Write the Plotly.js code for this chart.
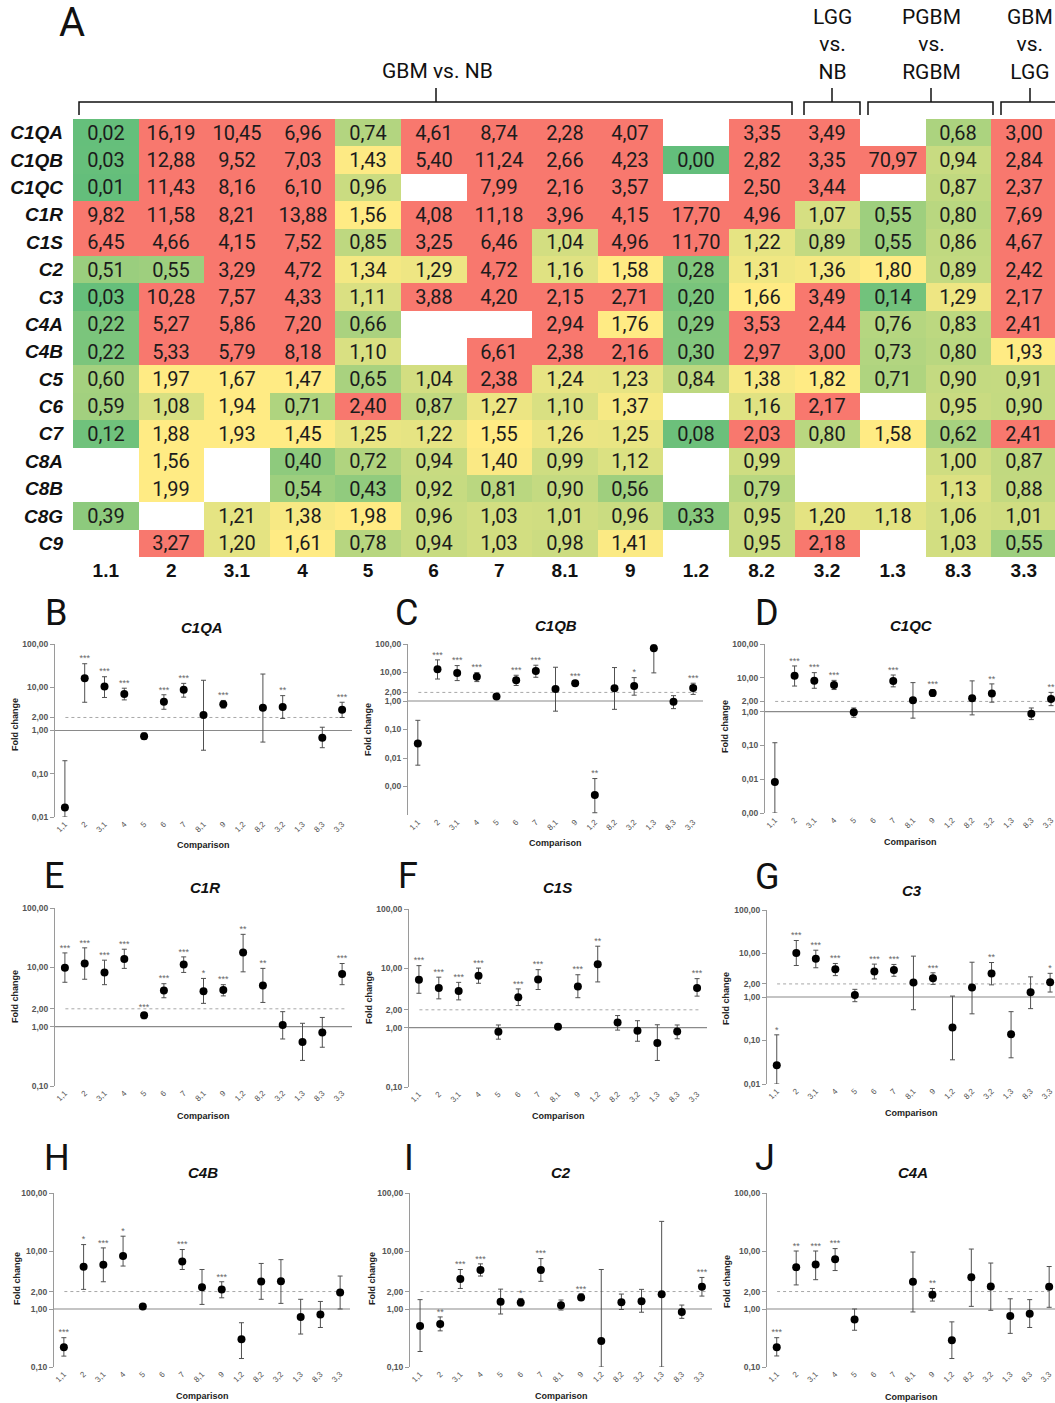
<!DOCTYPE html>
<html><head><meta charset="utf-8">
<script src="https://cdn.plot.ly/plotly-3.0.1.min.js"></script>
<style>body{margin:0;background:#fff}#chart{width:1055px;height:1403px}</style>
</head><body><div id="chart"></div>
<script>
// ---------- DATA ----------
const comparisons = ['1.1','2','3.1','4','5','6','7','8.1','9','1.2','8.2','3.2','1.3','8.3','3.3'];
const genes = ['C1QA','C1QB','C1QC','C1R','C1S','C2','C3','C4A','C4B','C5','C6','C7','C8A','C8B','C8G','C9'];

// fold change per gene (columns follow `comparisons`)
const fc_C1QA = [0.0166,16.19,10.45,6.96,0.74,4.61,8.74,2.28,4.07,null,3.35,3.49,null,0.68,3.00];
const fc_C1QB = [0.032,12.88,9.52,7.03,1.43,5.40,11.24,2.66,4.23,0.0005,2.82,3.35,70.97,0.94,2.84];
const fc_C1QC = [0.0082,11.43,8.16,6.10,0.96,null,7.99,2.16,3.57,null,2.50,3.44,null,0.87,2.37];
const fc_C1R  = [9.82,11.58,8.21,13.88,1.56,4.08,11.18,3.96,4.15,17.70,4.96,1.07,0.55,0.80,7.69];
const fc_C1S  = [6.45,4.66,4.15,7.52,0.85,3.25,6.46,1.04,4.96,11.70,1.22,0.89,0.55,0.86,4.67];
const fc_C2   = [0.51,0.55,3.29,4.72,1.34,1.29,4.72,1.16,1.58,0.28,1.31,1.36,1.80,0.89,2.42];
const fc_C3   = [0.027,10.28,7.57,4.33,1.11,3.88,4.20,2.15,2.71,0.20,1.66,3.49,0.14,1.29,2.17];
const fc_C4A  = [0.22,5.27,5.86,7.20,0.66,null,null,2.94,1.76,0.29,3.53,2.44,0.76,0.83,2.41];
const fc_C4B  = [0.22,5.33,5.79,8.18,1.10,null,6.61,2.38,2.16,0.30,2.97,3.00,0.73,0.80,1.93];
const fc_C5   = [0.60,1.97,1.67,1.47,0.65,1.04,2.38,1.24,1.23,0.84,1.38,1.82,0.71,0.90,0.91];
const fc_C6   = [0.59,1.08,1.94,0.71,2.40,0.87,1.27,1.10,1.37,null,1.16,2.17,null,0.95,0.90];
const fc_C7   = [0.12,1.88,1.93,1.45,1.25,1.22,1.55,1.26,1.25,0.08,2.03,0.80,1.58,0.62,2.41];
const fc_C8A  = [null,1.56,null,0.40,0.72,0.94,1.40,0.99,1.12,null,0.99,null,null,1.00,0.87];
const fc_C8B  = [null,1.99,null,0.54,0.43,0.92,0.81,0.90,0.56,null,0.79,null,null,1.13,0.88];
const fc_C8G  = [0.39,null,1.21,1.38,1.98,0.96,1.03,1.01,0.96,0.33,0.95,1.20,1.18,1.06,1.01];
const fc_C9   = [null,3.27,1.20,1.61,0.78,0.94,1.03,0.98,1.41,null,0.95,2.18,null,1.03,0.55];

// error bar bounds (upper / lower) and significance stars for panels B-J
const hiC1QA = [0.20,35,17.5,9.5,0.88,6.7,12.3,14.5,4.95,null,20.2,6.4,null,1.19,4.5];
const loC1QA = [0.01,4.5,5.8,5.1,0.62,3.1,5.9,0.35,3.3,null,0.54,1.9,null,0.40,2.0];
const stC1QA = ['','***','***','***','','***','***','','***','','','**','','','***'];

const hiC1QB = [0.21,27.7,17.5,9.9,1.55,8.0,18,15.3,5.05,0.0019,14.9,6.6,100,1.54,4.2];
const loC1QB = [0.0056,5.9,5.2,4.8,1.3,3.5,6.8,0.44,3.5,0.00012,0.51,1.6,9.7,0.54,1.7];
const stC1QB = ['','***','***','***','','***','***','','***','**','','*','','','***'];

const hiC1QC = [0.12,22.4,14.2,8.4,1.28,null,12.1,7.2,4.5,null,8.1,6.6,null,1.28,3.7];
const loC1QC = [0.001,5.7,4.9,4.5,0.68,null,5.4,0.64,2.8,null,0.80,1.9,null,0.58,1.5];
const stC1QC = ['','***','***','***','','','***','','***','','','**','','','**'];

const hiC1R = [17.5,21.3,13.2,20.2,1.72,5.3,15,6.5,5.1,36,9.6,1.79,1.14,1.43,11.6];
const loC1R = [5.6,6.3,5.1,9.6,1.36,3.07,8.2,2.47,3.3,8.4,2.56,0.62,0.27,0.45,5.1];
const stC1R = ['***','***','***','***','***','***','***','*','***','**','**','','','','***'];

const hiC1S = [11.1,7.1,5.8,10.1,1.11,4.5,9.5,1.1,7.8,23.6,1.6,1.31,1.12,1.11,6.7];
const loC1S = [3.8,3.06,2.94,5.6,0.64,2.36,4.4,0.98,3.2,5.9,0.91,0.59,0.28,0.65,3.4];
const stC1S = ['***','***','***','***','','***','***','','***','**','','','','','***'];

const hiC3 = [0.135,19.9,11.9,5.9,1.5,5.7,5.6,8.7,3.6,1.05,6.3,6.2,0.46,2.9,3.5];
const loC3 = [0.01,5.3,4.7,3.1,0.78,2.6,3.0,0.51,1.95,0.036,0.41,1.9,0.04,0.54,1.3];
const stC3 = ['*','***','***','***','','***','***','','***','','','**','','','*'];

const hiC4B = [0.32,12.9,11.3,18,1.16,null,10.6,4.8,2.95,0.58,6.1,7.1,1.47,1.35,3.7];
const loC4B = [0.154,2.18,2.95,5.5,1.05,null,4.8,1.2,1.56,0.14,1.47,1.25,0.37,0.48,1.0];
const stC4B = ['***','*','***','*','','','***','','***','','','','','',''];

const hiC2 = [1.45,0.73,4.8,6.0,2.2,1.52,7.4,1.43,1.83,4.8,1.81,2.18,32.4,1.17,3.5];
const loC2 = [0.185,0.42,2.26,3.7,0.82,1.13,3.0,0.96,1.43,0.10,0.98,0.88,0.10,0.69,1.67];
const stC2 = ['','**','***','***','','*','***','','***','','','','','','***'];

const hiC4A = [0.32,10,10,11,1.0,null,null,9.6,2.26,0.6,10.8,6.2,1.5,1.45,5.4];
const loC4A = [0.155,2.6,3.2,4.6,0.43,null,null,0.89,1.37,0.14,1.11,0.95,0.38,0.48,1.07];
const stC4A = ['***','**','***','***','','','','','**','','','','','',''];

// ---------- HELPERS ----------
const W = 1055, H = 1403;
const px = x => x / W;
const py = y => 1 - y / H;
const fmt = v => v == null ? '' : v.toFixed(2).replace('.', ',');

const heatRows = [fc_C1QA,fc_C1QB,fc_C1QC,fc_C1R,fc_C1S,fc_C2,fc_C3,fc_C4A,fc_C4B,fc_C5,fc_C6,fc_C7,fc_C8A,fc_C8B,fc_C8G,fc_C9];

const GREEN = '#63BE7B', YELLOW = '#FFEB84', RED = '#F8786E';
const ZMAX = 2.5;
const traces = [];
traces.push({
  type: 'heatmap', x: comparisons, y: genes, z: heatRows,
  text: heatRows.map(r => r.map(fmt)), texttemplate: '%{text}',
  textfont: {family: 'Roboto', size: 20, color: '#1c1c1c'},
  colorscale: [[0, GREEN], [1.45/ZMAX, YELLOW], [1.999/ZMAX, YELLOW], [2.0/ZMAX, RED], [1, RED]],
  zmin: 0, zmax: ZMAX, showscale: false, hoverinfo: 'skip', xaxis: 'x', yaxis: 'y'
});

const layout = {
  width: W, height: H, margin: {l: 0, r: 0, t: 0, b: 0},
  paper_bgcolor: '#fff', plot_bgcolor: 'rgba(0,0,0,0)', showlegend: false,
  xaxis: {domain: [px(73), 1], type: 'category', range: [-0.5, 14.476], anchor: 'y',
    tickfont: {family: 'Liberation Sans', size: 19, weight: 'bold', color: '#111'},
    ticks: '', showgrid: false, zeroline: false, showline: false, ticklabelstandoff: 0, fixedrange: true},
  yaxis: {domain: [py(557), py(119)], type: 'category', autorange: 'reversed', anchor: 'x',
    tickfont: {family: 'Liberation Sans', size: 19, weight: 'bold', style: 'italic', color: '#111'},
    ticks: '', showgrid: false, zeroline: false, showline: false, ticklabelstandoff: 9, fixedrange: true},
  shapes: [], annotations: []
};

// brackets and header
function bracket(x0, x1, xc) {
  const yb = py(115), yt = py(102), yc = py(88);
  layout.shapes.push({type: 'path', xref: 'paper', yref: 'paper',
    path: `M ${px(x0)},${yb} L ${px(x0)},${yt} L ${px(x1)},${yt} L ${px(x1)},${yb}`,
    line: {color: '#111', width: 1.5}});
  layout.shapes.push({type: 'line', xref: 'paper', yref: 'paper',
    x0: px(xc), x1: px(xc), y0: yt, y1: yc, line: {color: '#111', width: 1.5}});
}
bracket(79, 792, 436);
bracket(804, 860, 832);
bracket(868, 993, 931);
bracket(1001, 1075, 1030);

function ann(text, x, y, font, extra) {
  layout.annotations.push(Object.assign({text, x: px(x), y: py(y), xref: 'paper', yref: 'paper',
    xanchor: 'center', yanchor: 'middle', showarrow: false, font}, extra || {}));
}
const hdrFont = {family: 'Roboto', size: 21, color: '#111'};
ann('A', 72, 22, {family: 'Roboto', size: 40, color: '#111'});
ann('GBM vs. NB', 437, 71, hdrFont);
ann('LGG<br>vs.<br>NB', 832, 44, hdrFont);
ann('PGBM<br>vs.<br>RGBM', 931, 44, hdrFont);
ann('GBM<br>vs.<br>LGG', 1030, 44, hdrFont);

// ---------- PANELS ----------
const T2 = [0.01, 0.1, 1, 2, 10, 100];
const T3 = [0.001, 0.01, 0.1, 1, 2, 10, 100];
const T1 = [0.1, 1, 2, 10, 100];
const panels = [
  {letter:'B', gene:'C1QA', val:fc_C1QA, hi:hiC1QA, lo:loC1QA, st:stC1QA, L:55, R:352, T:644, B:817, yr:[-2,2], ticks:T2, xEnd:14.5, tx:202, ty:627, lx:56, ly:613, fx:15, fy:725, cy:845},
  {letter:'C', gene:'C1QB', val:fc_C1QB, hi:hiC1QB, lo:loC1QB, st:stC1QB, L:408, R:703, T:644, B:815, yr:[-4,2], ticks:T3, xEnd:14.5, tx:556, ty:625, lx:406, ly:613, fx:368, fy:730, cy:843},
  {letter:'D', gene:'C1QC', val:fc_C1QC, hi:hiC1QC, lo:loC1QC, st:stC1QC, L:765, R:1055, T:644, B:813, yr:[-3,2], ticks:T3, xEnd:14.2, tx:911, ty:625, lx:767, ly:613, fx:725, fy:727, cy:842},
  {letter:'E', gene:'C1R', val:fc_C1R, hi:hiC1R, lo:loC1R, st:stC1R, L:55, R:352, T:908, B:1086, yr:[-1,2], ticks:T1, xEnd:14.5, tx:205, ty:888, lx:54, ly:876, fx:15, fy:997, cy:1116},
  {letter:'F', gene:'C1S', val:fc_C1S, hi:hiC1S, lo:loC1S, st:stC1S, L:409, R:707, T:909, B:1087, yr:[-1,2], ticks:T1, xEnd:14.5, tx:557, ty:888, lx:408, ly:876, fx:369, fy:998, cy:1116},
  {letter:'G', gene:'C3', val:fc_C3, hi:hiC3, lo:loC3, st:stC3, L:767, R:1055, T:910, B:1084, yr:[-2,2], ticks:T2, xEnd:14.25, tx:912, ty:890, lx:767, ly:877, fx:726, fy:999, cy:1113},
  {letter:'H', gene:'C4B', val:fc_C4B, hi:hiC4B, lo:loC4B, st:stC4B, L:54, R:350, T:1193, B:1367, yr:[-1,2], ticks:T1, xEnd:14.5, tx:203, ty:1172, lx:57, ly:1158, fx:17, fy:1279, cy:1396},
  {letter:'I', gene:'C2', val:fc_C2, hi:hiC2, lo:loC2, st:stC2, L:410, R:712, T:1193, B:1367, yr:[-1,2], ticks:T1, xEnd:14.5, tx:561, ty:1172, lx:409, ly:1158, fx:372, fy:1279, cy:1396},
  {letter:'J', gene:'C4A', val:fc_C4A, hi:hiC4A, lo:loC4A, st:stC4A, L:767, R:1055, T:1193, B:1367, yr:[-1,2], ticks:T1, xEnd:14.3, tx:913, ty:1172, lx:765, ly:1158, fx:727, fy:1282, cy:1397}
];

panels.forEach((p, i) => {
  const n = i + 2, xa = 'x' + n, ya = 'y' + n;
  const plus = p.val.map((v, k) => (v == null || p.hi[k] == null) ? null : p.hi[k] - v);
  const minus = p.val.map((v, k) => (v == null || p.lo[k] == null) ? null : v - p.lo[k]);
  traces.push({type: 'scatter', mode: 'markers', x: comparisons, y: p.val, xaxis: xa, yaxis: ya,
    marker: {size: 8, color: '#000'}, cliponaxis: false, hoverinfo: 'skip',
    error_y: {type: 'data', symmetric: false, array: plus, arrayminus: minus, color: '#505050', thickness: 1, width: 2.5}});
  traces.push({type: 'scatter', mode: 'text', x: comparisons, y: p.hi, text: p.st, xaxis: xa, yaxis: ya,
    textposition: 'top center', textfont: {family: 'Liberation Sans', size: 9, color: '#666'}, cliponaxis: false, hoverinfo: 'skip'});

  layout['xaxis' + n] = {domain: [px(p.L), px(p.R)], anchor: ya, type: 'category',
    categoryorder: 'array', categoryarray: comparisons, range: [-0.5, p.xEnd],
    tickvals: comparisons, ticktext: comparisons.map(c => c.replace('.', ',')), tickangle: -45,
    tickfont: {family: 'Liberation Sans', size: 8, color: '#555'},
    showline: false, showgrid: false, zeroline: false, ticks: '', fixedrange: true};
  layout['yaxis' + n] = {domain: [py(p.B), py(p.T)], anchor: xa, type: 'log', range: p.yr,
    tickvals: p.ticks, ticktext: p.ticks.map(fmt),
    tickfont: {family: 'Liberation Sans', size: 8.5, color: '#555', weight: 'bold'},
    showline: true, linecolor: '#9a9a9a', linewidth: 1, ticks: 'outside', ticklen: 4, tickcolor: '#9a9a9a',
    showgrid: false, zeroline: false, fixedrange: true};

  layout.shapes.push({type: 'line', layer: 'below', xref: xa + ' domain', yref: ya, x0: 0, x1: 1, y0: 1, y1: 1,
    line: {color: '#8a8a8a', width: 1.2}});
  layout.shapes.push({type: 'line', layer: 'below', xref: xa + ' domain', yref: ya, x0: 0.035, x1: 0.98, y0: 2, y1: 2,
    line: {color: '#a8a8a8', width: 1, dash: 'dot'}});

  ann(p.letter, p.lx, p.ly, {family: 'Roboto', size: 36, color: '#111'});
  ann(p.gene, p.tx, p.ty, {family: 'Liberation Sans', size: 15, weight: 'bold', style: 'italic', color: '#111'});
  ann('Fold change', p.fx, p.fy, {family: 'Liberation Sans', size: 9, weight: 'bold', color: '#222'}, {textangle: -90});
  ann('Comparison', (p.L + Math.min(p.R, 1055)) / 2, p.cy, {family: 'Liberation Sans', size: 9, weight: 'bold', color: '#222'});
});

Plotly.newPlot('chart', traces, layout, {displayModeBar: false, staticPlot: true});
</script>
</body></html>
